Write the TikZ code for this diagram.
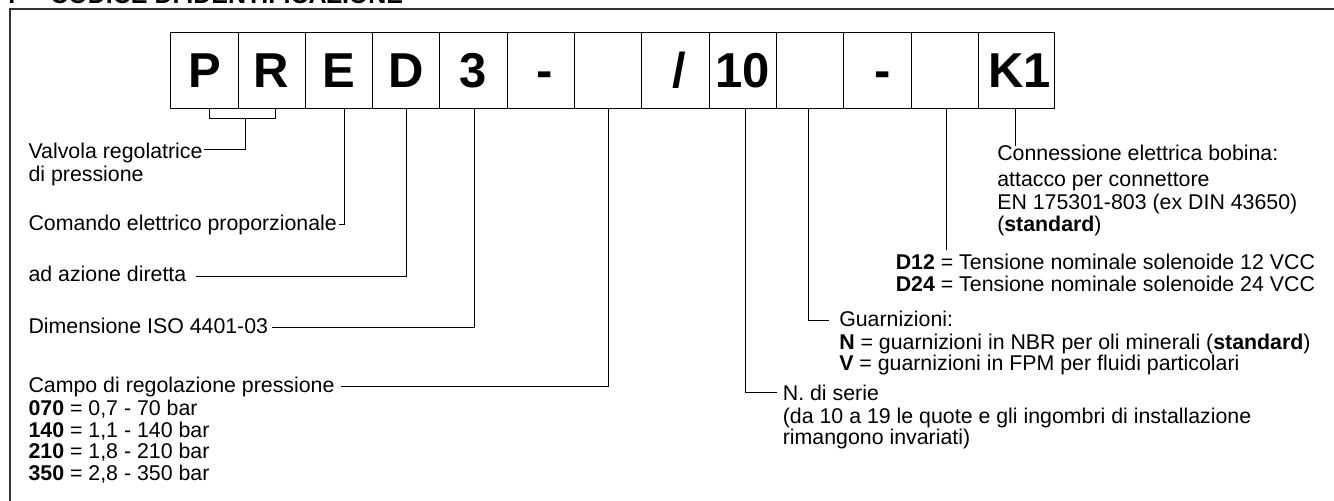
\documentclass[tikz,border=0pt]{standalone}
\usepackage{fontspec}
\setmainfont{Liberation Sans}
\begin{document}
\begin{tikzpicture}[x=0.75pt,y=-0.75pt,
  codebox/.style={draw=black, line width=0.75pt, minimum width=50.475pt, minimum height=57pt,
    inner sep=0pt, text height=26.3pt, text depth=0pt,
    font=\fontsize{36.75}{40}\selectfont\bfseries},
  lbl/.style={anchor=base west, inner sep=0pt, text height=12pt, text depth=3.45pt,
    font=\fontsize{16}{18}\selectfont},
  conn/.style={draw=black, line width=0.75pt},
  frame/.style={draw=black!80, line width=1.3pt}]
\useasboundingbox (0,0) rectangle (1334,500);
\clip (0,0) rectangle (1334,500);
% title (cut off at the top) and frame
\node[anchor=base west, inner sep=0pt, font=\fontsize{18.75}{20}\selectfont\bfseries] (title) at (6,3)
  {7 -\hspace{6pt} CODICE DI IDENTIFICAZIONE};
\draw[frame] (10,600) |- (1400,9);
% code boxes
\node[codebox] (b1) at (204.35,70) {P};
\node[codebox] (b2) at (271.65,70) {R};
\node[codebox] (b3) at (338.95,70) {E};
\node[codebox] (b4) at (406.25,70) {D};
\node[codebox] (b5) at (473.55,70) {3};
\node[codebox] (b6) at (540.85,70) {\hspace*{5.5pt}-};
\node[codebox] (b7) at (608.15,70) {};
\node[codebox] (b8) at (675.45,70) {\hspace*{6.5pt}/};
\node[codebox] (b9) at (742.75,70) {10};
\node[codebox] (b10) at (810.05,70) {};
\node[codebox] (b11) at (877.35,70) {\hspace*{8pt}-};
\node[codebox] (b12) at (944.65,70) {};
\node[codebox, minimum width=57pt] (b13) at (1016.3,70) {\hspace*{5pt}K1};
% left texts
\node[lbl] (t1) at (28.3,158.3) {Valvola regolatrice};
\node[lbl] (t1b) at (28.3,181.7) {di pressione};
\node[lbl] (t3) at (28.3,230) {Comando elettrico proporzionale};
\node[lbl] (t4) at (28.3,281.7) {ad azione diretta};
\node[lbl] (t5) at (28.3,333) {Dimensione ISO 4401-03};
\node[lbl] (t7) at (28.3,392) {Campo di regolazione pressione};
\node[lbl] (t7a) at (28.3,415) {\textbf{070} = 0,7 - 70 bar};
\node[lbl] (t7b) at (28.3,437) {\textbf{140} = 1,1 - 140 bar};
\node[lbl] (t7c) at (28.3,458.7) {\textbf{210} = 1,8 - 210 bar};
\node[lbl] (t7d) at (28.3,480.3) {\textbf{350} = 2,8 - 350 bar};
% right texts
\node[lbl] (t13) at (997,160.4) {Connessione elettrica bobina:};
\node[lbl] (t13a) at (997,186.6) {attacco per connettore};
\node[lbl] (t13b) at (997,209.5) {EN 175301-803 (ex DIN 43650)};
\node[lbl] (t13c) at (997,231.5) {(\textbf{standard})};
\node[lbl] (t12a) at (895.5,269.5) {\textbf{D12} = Tensione nominale solenoide 12 VCC};
\node[lbl] (t12b) at (895.5,291.2) {\textbf{D24} = Tensione nominale solenoide 24 VCC};
\node[lbl] (t10) at (839,326.3) {Guarnizioni:};
\node[lbl] (t10a) at (839,349) {\textbf{N} = guarnizioni in NBR per oli minerali (\textbf{standard})};
\node[lbl] (t10b) at (839,370.5) {\textbf{V} = guarnizioni in FPM per fluidi particolari};
\node[lbl] (t9) at (782.6,400) {N. di serie};
\node[lbl] (t9a) at (782.6,423) {(da 10 a 19 le quote e gli ingombri di installazione};
\node[lbl] (t9b) at (782.6,444.5) {rimangono invariati)};
% connector x positions
\coordinate (cP) at (209,118.3);
\coordinate (cR) at (275.3,118.3);
\coordinate (brk) at (245,118.3);
\coordinate (cE) at (344.3,0);
\coordinate (cD) at (406.3,0);
\coordinate (c3) at (474.3,0);
\coordinate (c7) at (608.3,0);
\coordinate (c9) at (745,0);
\coordinate (c10) at (808.7,0);
\coordinate (e12) at (946.7,250);
\coordinate (e13) at (1015,146);
% connectors
\draw[conn] (cP |- b1.south) -- (cP) -- (cR) -- (cR |- b2.south);
\draw[conn] (brk) |- ([xshift=1pt,yshift=2.55pt]t1.east);
\draw[conn] (cE |- b3.south) |- ([xshift=1.5pt]t3.east);
\draw[conn] (cD |- b4.south) |- ([xshift=7pt]t4.east);
\draw[conn] (c3 |- b5.south) |- ([xshift=3pt]t5.east);
\draw[conn] (c7 |- b7.south) |- ([xshift=5pt]t7.east);
\draw[conn] (c9 |- b9.south) |- ([xshift=-4.5pt,yshift=1pt]t9.west);
\draw[conn] (c10 |- b10.south) |- ([xshift=-7.5pt]t10.west);
\draw[conn] (e12 |- b12.south) -- (e12);
\draw[conn] (e13 |- b13.south) -- (e13);
\end{tikzpicture}
\end{document}
